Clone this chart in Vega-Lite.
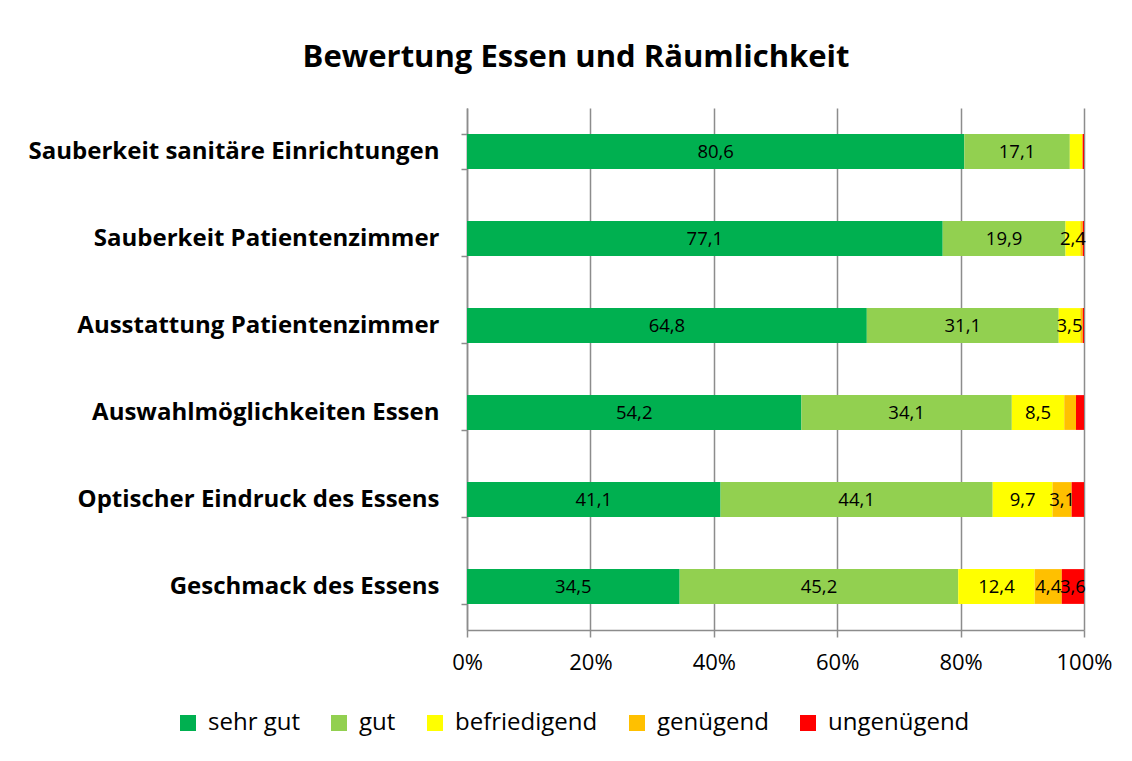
{
  "$schema": "https://vega.github.io/schema/vega-lite/v6.json",
  "autosize": "none",
  "width": 617,
  "height": 522,
  "padding": {"left": 467, "top": 108, "right": 48, "bottom": 131},
  "background": "white",
  "title": {
    "text": "Bewertung Essen und Räumlichkeit",
    "font": "Open Sans",
    "fontSize": 31,
    "fontWeight": "bold",
    "color": "black",
    "anchor": "middle",
    "frame": "bounds",
    "offset": 22,
    "dx": 6
  },
  "data": {
    "values": [
      {"kategorie": "Sauberkeit sanitäre Einrichtungen", "bewertung": "sehr gut", "rang": 1, "wert": 80.6},
      {"kategorie": "Sauberkeit sanitäre Einrichtungen", "bewertung": "gut", "rang": 2, "wert": 17.1},
      {"kategorie": "Sauberkeit sanitäre Einrichtungen", "bewertung": "befriedigend", "rang": 3, "wert": 2.0},
      {"kategorie": "Sauberkeit sanitäre Einrichtungen", "bewertung": "genügend", "rang": 4, "wert": 0.1},
      {"kategorie": "Sauberkeit sanitäre Einrichtungen", "bewertung": "ungenügend", "rang": 5, "wert": 0.2},
      {"kategorie": "Sauberkeit Patientenzimmer", "bewertung": "sehr gut", "rang": 1, "wert": 77.1},
      {"kategorie": "Sauberkeit Patientenzimmer", "bewertung": "gut", "rang": 2, "wert": 19.9},
      {"kategorie": "Sauberkeit Patientenzimmer", "bewertung": "befriedigend", "rang": 3, "wert": 2.4},
      {"kategorie": "Sauberkeit Patientenzimmer", "bewertung": "genügend", "rang": 4, "wert": 0.4},
      {"kategorie": "Sauberkeit Patientenzimmer", "bewertung": "ungenügend", "rang": 5, "wert": 0.2},
      {"kategorie": "Ausstattung Patientenzimmer", "bewertung": "sehr gut", "rang": 1, "wert": 64.8},
      {"kategorie": "Ausstattung Patientenzimmer", "bewertung": "gut", "rang": 2, "wert": 31.1},
      {"kategorie": "Ausstattung Patientenzimmer", "bewertung": "befriedigend", "rang": 3, "wert": 3.5},
      {"kategorie": "Ausstattung Patientenzimmer", "bewertung": "genügend", "rang": 4, "wert": 0.4},
      {"kategorie": "Ausstattung Patientenzimmer", "bewertung": "ungenügend", "rang": 5, "wert": 0.2},
      {"kategorie": "Auswahlmöglichkeiten Essen", "bewertung": "sehr gut", "rang": 1, "wert": 54.2},
      {"kategorie": "Auswahlmöglichkeiten Essen", "bewertung": "gut", "rang": 2, "wert": 34.1},
      {"kategorie": "Auswahlmöglichkeiten Essen", "bewertung": "befriedigend", "rang": 3, "wert": 8.5},
      {"kategorie": "Auswahlmöglichkeiten Essen", "bewertung": "genügend", "rang": 4, "wert": 1.9},
      {"kategorie": "Auswahlmöglichkeiten Essen", "bewertung": "ungenügend", "rang": 5, "wert": 1.3},
      {"kategorie": "Optischer Eindruck des Essens", "bewertung": "sehr gut", "rang": 1, "wert": 41.1},
      {"kategorie": "Optischer Eindruck des Essens", "bewertung": "gut", "rang": 2, "wert": 44.1},
      {"kategorie": "Optischer Eindruck des Essens", "bewertung": "befriedigend", "rang": 3, "wert": 9.7},
      {"kategorie": "Optischer Eindruck des Essens", "bewertung": "genügend", "rang": 4, "wert": 3.1},
      {"kategorie": "Optischer Eindruck des Essens", "bewertung": "ungenügend", "rang": 5, "wert": 2.0},
      {"kategorie": "Geschmack des Essens", "bewertung": "sehr gut", "rang": 1, "wert": 34.5},
      {"kategorie": "Geschmack des Essens", "bewertung": "gut", "rang": 2, "wert": 45.2},
      {"kategorie": "Geschmack des Essens", "bewertung": "befriedigend", "rang": 3, "wert": 12.4},
      {"kategorie": "Geschmack des Essens", "bewertung": "genügend", "rang": 4, "wert": 4.4},
      {"kategorie": "Geschmack des Essens", "bewertung": "ungenügend", "rang": 5, "wert": 3.6}
    ]
  },
  "transform": [
    {"stack": "wert", "groupby": ["kategorie"], "sort": [{"field": "rang", "order": "ascending"}], "offset": "normalize", "as": ["v0", "v1"]},
    {"calculate": "(datum.v0 + datum.v1) / 2", "as": "mitte"}
  ],
  "encoding": {
    "y": {
      "field": "kategorie",
      "type": "nominal",
      "sort": null,
      "title": null,
      "scale": {"paddingInner": 0.6, "paddingOuter": 0.3},
      "axis": {
        "tickBand": "extent",
        "labelFont": "Open Sans",
        "labelFontSize": 24,
        "labelFontWeight": "bold",
        "labelColor": "black",
        "labelPadding": 22,
        "tickSize": 6,
        "tickColor": "#8c8c8c",
        "tickWidth": 1.5,
        "domainColor": "#8c8c8c",
        "domainWidth": 1.5,
        "grid": false,
        "labelLimit": 500
      }
    }
  },
  "layer": [
    {
      "mark": {"type": "bar"},
      "encoding": {
        "x": {
          "field": "v0",
          "type": "quantitative",
          "scale": {"domain": [0, 1], "nice": false},
          "title": null,
          "axis": {
            "values": [0, 0.2, 0.4, 0.6, 0.8, 1],
            "format": ".0%",
            "labelFlush": false,
            "labelFont": "Open Sans",
            "labelFontSize": 22,
            "labelColor": "black",
            "labelPadding": 15,
            "tickSize": 7,
            "tickColor": "#8c8c8c",
            "tickWidth": 1.5,
            "domainColor": "#8c8c8c",
            "domainWidth": 1.5,
            "grid": true,
            "gridColor": "#8c8c8c",
            "gridWidth": 1.5,
            "gridOpacity": 1
          }
        },
        "x2": {"field": "v1"},
        "color": {
          "field": "bewertung",
          "type": "nominal",
          "scale": {
            "domain": ["sehr gut", "gut", "befriedigend", "genügend", "ungenügend"],
            "range": ["#00B050", "#92D050", "#FFFF00", "#FFC000", "#FF0000"]
          },
          "legend": {
            "title": null,
            "orient": "none",
            "direction": "horizontal",
            "legendX": -291,
            "legendY": 603,
            "symbolType": "square",
            "symbolSize": 256,
            "symbolStrokeWidth": 0,
            "labelFont": "Open Sans",
            "labelFontSize": 24,
            "labelColor": "black",
            "labelOffset": 8,
            "columnPadding": 27,
            "labelLimit": 300
          }
        }
      }
    },
    {
      "transform": [{"filter": "datum.wert > 2.2"}],
      "mark": {"type": "text", "font": "Open Sans", "fontSize": 18.5, "color": "black", "align": "center", "baseline": "middle"},
      "encoding": {
        "x": {"field": "mitte", "type": "quantitative"},
        "text": {"field": "wert", "type": "quantitative", "format": ".1f"}
      }
    }
  ],
  "config": {
    "view": {"stroke": null},
    "locale": {
      "number": {"decimal": ",", "thousands": ".", "grouping": [3], "currency": ["", " €"]}
    }
  }
}
